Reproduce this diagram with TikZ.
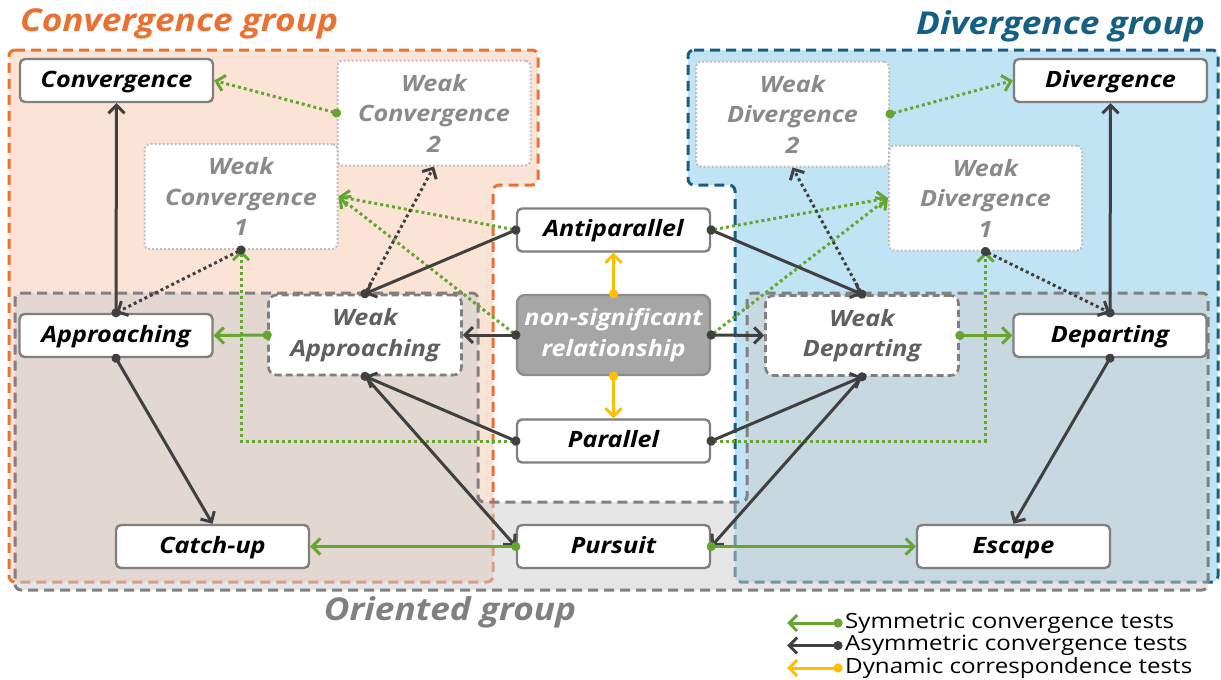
\documentclass[tikz,border=0pt]{standalone}
\usepackage{fontspec}
\setmainfont{Open Sans}
\newfontfamily\bif[FakeStretch=1.12]{Open Sans}
\newfontfamily\legf[FakeStretch=1.15]{Open Sans}
\usetikzlibrary{arrows.meta}
\definecolor{dk}{HTML}{404040}
\definecolor{gr}{RGB}{100,166,48}
\definecolor{yl}{HTML}{FFC000}
\definecolor{bxb}{HTML}{7F7F7F}
\definecolor{wkb}{HTML}{BFBFBF}
\definecolor{wkt}{HTML}{8A8A8A}
\definecolor{wat}{HTML}{606060}
\definecolor{orn}{HTML}{E97132}
\definecolor{peach}{HTML}{FBE3D6}
\definecolor{blu}{HTML}{156082}
\definecolor{lblu}{HTML}{C1E4F5}
\definecolor{ogr}{HTML}{808080}
\definecolor{ogfill}{RGB}{205,205,205}
\definecolor{nsfill}{HTML}{A6A6A6}
\definecolor{nsb}{HTML}{8C8C8C}
\tikzset{
  boxfont/.style={font=\bif\fontsize{22.5}{30.5}\selectfont\bfseries\itshape},
  box/.style={boxfont, draw=bxb, line width=2.4pt, fill=white, rounded corners=5pt,
    minimum width=193pt, minimum height=43pt, inner sep=0pt, align=center},
  sbox/.style={box, text height=17.5pt, text depth=4.5pt},
  wkbox/.style={box, draw=wkb, line width=2pt, dash pattern=on 2pt off 2pt, text=wkt,
    minimum height=105pt},
  wabox/.style={box, draw=bxb, line width=2.6pt, dash pattern=on 7pt off 4pt, text=wat,
    minimum height=80pt, rounded corners=8pt},
  nsbox/.style={box, draw=nsb, fill=nsfill, text=white, minimum height=80pt, rounded corners=8pt},
  cn/.style={line width=3pt, shorten <=-4.5pt, {Circle[length=9pt]}-{Straight Barb[length=8pt,width=16pt]}},
  dk/.style={cn, draw=dk},
  gn/.style={cn, draw=gr},
  ye/.style={cn, draw=yl},
  dotl/.style={dash pattern=on 3pt off 3pt},
  region/.style={line width=3pt, dash pattern=on 10pt off 6pt, rounded corners=6pt},
  title/.style={font=\bif\fontsize{31.5}{36}\selectfont\bfseries\itshape, inner sep=0pt},
  legtext/.style={font=\legf\fontsize{21}{22}\selectfont, anchor=west, inner sep=0pt}
}
\begin{document}
\begin{tikzpicture}[x=1pt,y=-1pt]
\useasboundingbox (0,0) rectangle (1221,680);
% regions
\draw[region, draw=orn, fill=peach] (9,50) -- (538,50) -- (538,185) -- (493,185) -- (493,582) -- (9,582) -- cycle;
\draw[region, draw=blu, fill=lblu] (688,50) -- (1218,50) -- (1218,582) -- (735,582) -- (735,185) -- (688,185) -- cycle;
\draw[region, draw=ogr, fill=ogfill, fill opacity=0.5] (15,293) -- (478,293) -- (478,502) -- (747,502) -- (747,293) -- (1208,293) -- (1208,590) -- (15,590) -- cycle;
% titles
\node[title, text=orn, anchor=west] (tcg) at (20,24) {Convergence group};
\node[title, text=blu, anchor=east] (tdg) at (1205,26) {Divergence group};
\node[title, text=ogr] (tog) at (450,612) {Oriented group};
% nodes
\node[sbox] (conv) at (116.5,80.5) {Convergence};
\node[sbox] (div) at (1110.5,80.5) {Divergence};
\node[wkbox] (wc2) at (434,113) {Weak\\Convergence\\2};
\node[wkbox] (wc1) at (241,196.5) {Weak\\Convergence\\1};
\node[wkbox] (wd2) at (792.5,114) {Weak\\Divergence\\2};
\node[wkbox] (wd1) at (985.5,198) {Weak\\Divergence\\1};
\node[sbox] (appr) at (116,335.5) {Approaching};
\node[sbox] (dep) at (1110,335.5) {Departing};
\node[wabox] (wa) at (365,335) {Weak\\Approaching};
\node[wabox] (wd) at (862,335.5) {Weak\\Departing};
\node[sbox] (anti) at (613.5,230) {Antiparallel};
\node[nsbox] (ns) at (613.5,335) {non-significant\\relationship};
\node[sbox] (par) at (613.5,441) {Parallel};
\node[sbox] (catch) at (212.5,546.5) {Catch-up};
\node[sbox] (purs) at (613.5,546.5) {Pursuit};
\node[sbox] (esc) at (1013.5,546.5) {Escape};
% dotted connectors
\draw[gn, dotl] (wc2.west) -- (conv.east);
\draw[gn, dotl] (anti.west) -- (wc1.east);
\draw[gn, dotl] (ns.west) -- (wc1.east);
\draw[gn, dotl] (par.west) -| (wc1.south);
\draw[dk, dotl] (wc1.south) -- (appr.north);
\draw[dk, dotl] (wa.north) -- (wc2.south);
\draw[gn, dotl] (wd2.east) -- (div.west);
\draw[gn, dotl] (anti.east) -- (wd1.west);
\draw[gn, dotl] (ns.east) -- (wd1.west);
\draw[gn, dotl] (par.east) -| (wd1.south);
\draw[dk, dotl] (wd1.south) -- (dep.north);
\draw[dk, dotl] (wd.north) -- (wd2.south);
% solid connectors
\draw[dk] (appr.north) -- (conv.south);
\draw[dk] (dep.north) -- (div.south);
\draw[dk] (anti.west) -- (wa.north);
\draw[dk] (anti.east) -- (wd.north);
\draw[dk] (ns.west) -- (wa.east);
\draw[dk] (ns.east) -- (wd.west);
\draw[gn] (wa.west) -- (appr.east);
\draw[gn] (wd.east) -- (dep.west);
\draw[dk] (appr.south) -- (catch.north);
\draw[dk] (dep.south) -- (esc.north);
\draw[dk] (par.west) -- (wa.south);
\draw[dk] (par.east) -- (wd.south);
\draw[dk] (wa.south) -- (purs.west);
\draw[dk] (wd.south) -- (purs.east);
\draw[gn] (purs.west) -- (catch.east);
\draw[gn] (purs.east) -- (esc.west);
\draw[ye] (ns.north) -- (anti.south);
\draw[ye] (ns.south) -- (par.north);
% legend
\coordinate (l1a) at (787,623); \coordinate (l1b) at (838,623);
\coordinate (l2a) at (787,645.5); \coordinate (l2b) at (838,645.5);
\coordinate (l3a) at (787,668); \coordinate (l3b) at (838,668);
\draw[gn] (l1b) -- (l1a);
\draw[dk] (l2b) -- (l2a);
\draw[ye] (l3b) -- (l3a);
\node[legtext] (lt1) at (845,623) {Symmetric convergence tests};
\node[legtext] (lt2) at (845,645.5) {Asymmetric convergence tests};
\node[legtext] (lt3) at (845,668) {Dynamic correspondence tests};
\end{tikzpicture}
\end{document}
